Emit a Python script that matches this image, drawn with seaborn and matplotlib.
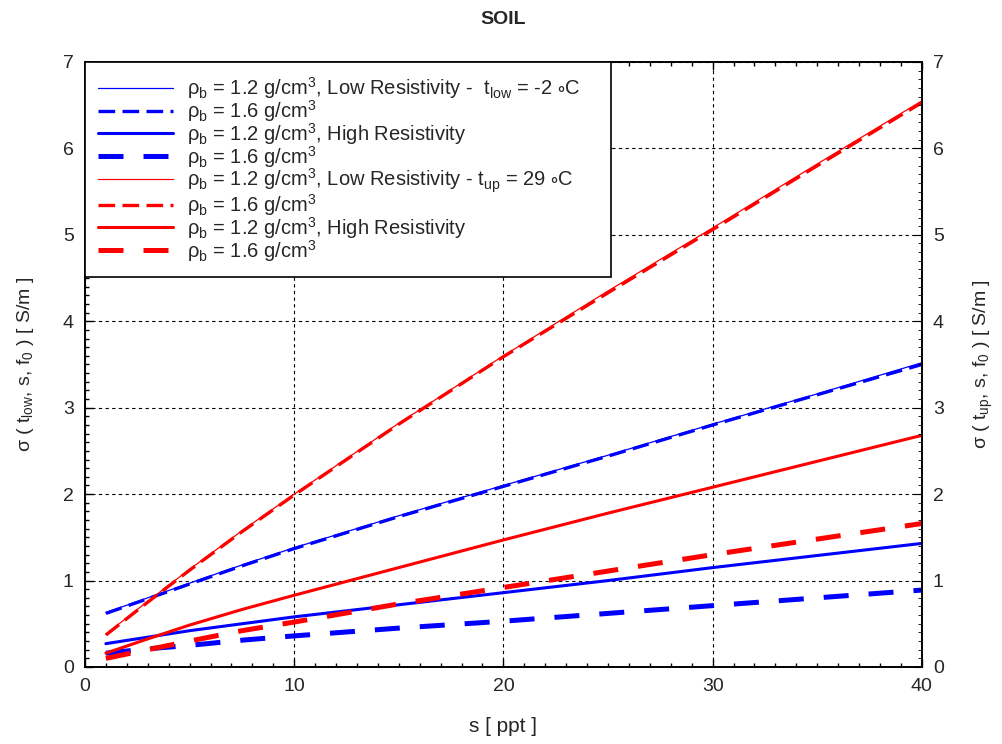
import numpy as np
import pandas as pd
import matplotlib
matplotlib.use("Agg")
import matplotlib.pyplot as plt
import seaborn as sns
from matplotlib.ticker import MultipleLocator

# salinity [ppt]
s = [1, 3, 5, 7.5, 10, 15, 20, 25, 30, 35, 40]

# t_low = -2 C (blue)
blue_low_12 = [0.63, 0.80, 0.97, 1.18, 1.38, 1.75, 2.10, 2.45, 2.81, 3.16, 3.52]
blue_low_16 = [0.62, 0.79, 0.96, 1.17, 1.37, 1.74, 2.09, 2.44, 2.80, 3.15, 3.50]
blue_high_12 = [0.27, 0.345, 0.42, 0.50, 0.58, 0.72, 0.86, 1.00, 1.15, 1.29, 1.43]
blue_high_16 = [0.16, 0.21, 0.25, 0.31, 0.36, 0.45, 0.53, 0.62, 0.71, 0.80, 0.89]

# t_up = 29 C (red)
red_low_12 = [0.38, 0.76, 1.13, 1.575, 2.00, 2.82, 3.60, 4.35, 5.08, 5.82, 6.55]
red_low_16 = [0.37, 0.75, 1.12, 1.565, 1.99, 2.81, 3.59, 4.33, 5.06, 5.80, 6.53]
red_high_12 = [0.16, 0.325, 0.485, 0.665, 0.83, 1.15, 1.47, 1.78, 2.08, 2.38, 2.68]
red_high_16 = [0.10, 0.20, 0.30, 0.42, 0.52, 0.73, 0.92, 1.11, 1.30, 1.48, 1.66]

labels = [
    "ρ$_\\mathrm{b}$ = 1.2 g/cm$^3$, Low Resistivity -  t$_\\mathrm{low}$ = -2 $\\circ$C",
    "ρ$_\\mathrm{b}$ = 1.6 g/cm$^3$",
    "ρ$_\\mathrm{b}$ = 1.2 g/cm$^3$, High Resistivity",
    "ρ$_\\mathrm{b}$ = 1.6 g/cm$^3$",
    "ρ$_\\mathrm{b}$ = 1.2 g/cm$^3$, Low Resistivity - t$_\\mathrm{up}$ = 29 $\\circ$C",
    "ρ$_\\mathrm{b}$ = 1.6 g/cm$^3$",
    "ρ$_\\mathrm{b}$ = 1.2 g/cm$^3$, High Resistivity",
    "ρ$_\\mathrm{b}$ = 1.6 g/cm$^3$",
]

sns.set_style("ticks")
plt.rcParams["font.family"] = ["Liberation Sans", "DejaVu Sans"]
plt.rcParams["mathtext.fontset"] = "custom"
plt.rcParams["mathtext.rm"] = "Liberation Sans"
plt.rcParams["mathtext.it"] = "Liberation Sans:italic"
plt.rcParams["mathtext.default"] = "regular"

series = [
    (blue_low_12, "#0000ff", 0.9, "-"),
    (blue_low_16, "#0000ff", 2.4, (0, (5, 2.2))),
    (blue_high_12, "#0000ff", 2.2, "-"),
    (blue_high_16, "#0000ff", 3.6, (0, (5, 4))),
    (red_low_12, "#ff0000", 0.9, "-"),
    (red_low_16, "#ff0000", 2.4, (0, (5, 2.2))),
    (red_high_12, "#ff0000", 2.2, "-"),
    (red_high_16, "#ff0000", 3.6, (0, (5, 4))),
]

fig = plt.figure(figsize=(10.02, 7.44), dpi=100)
ax = fig.add_axes([0.0848, 0.1035, 0.8352, 0.8132])

for (vals, col, lw, ls), lab in zip(series, labels):
    df = pd.DataFrame({"s": s, "sigma": vals})
    sns.lineplot(data=df, x="s", y="sigma", ax=ax, color=col, lw=lw,
                 linestyle=ls, label=lab, legend=False)

ax.set_xlim(0, 40)
ax.set_ylim(0, 7)
ax.xaxis.set_major_locator(MultipleLocator(10))
ax.xaxis.set_minor_locator(MultipleLocator(1))
ax.yaxis.set_major_locator(MultipleLocator(1))
ax.yaxis.set_minor_locator(MultipleLocator(0.1))
ax.grid(True, which="major", color="black", linestyle=(0, (3, 3)), lw=0.8)
ax.tick_params(which="both", direction="in", top=True, right=True,
               labelsize=14, width=1, color="black", pad=8)
ax.tick_params(which="major", length=6)
ax.tick_params(which="minor", length=3)
for sp in ax.spines.values():
    sp.set_linewidth(1.4)
    sp.set_color("black")

ax.set_xlabel("s [ ppt ]", fontsize=15, labelpad=16)
ax.set_ylabel("σ ( t$_\\mathrm{low}$, s, f$_0$ ) [ S/m ]", fontsize=14, labelpad=19)
ax.set_title("SOIL", fontsize=14, fontweight="bold", pad=27)

ax2 = ax.twinx()
ax2.set_ylim(0, 7)
ax2.yaxis.set_major_locator(MultipleLocator(1))
ax2.yaxis.set_minor_locator(MultipleLocator(0.1))
ax2.tick_params(which="both", direction="in", labelsize=14, pad=8, color="black")
ax2.tick_params(which="major", length=6)
ax2.tick_params(which="minor", length=3)
ax2.set_ylabel("σ ( t$_\\mathrm{up}$, s, f$_0$ ) [ S/m ]", fontsize=14, labelpad=20)
for sp in ax2.spines.values():
    sp.set_visible(False)

leg = ax.legend(loc="upper left", bbox_to_anchor=(0, 0, 0.628, 1), mode="expand",
                fontsize=14.5, frameon=True, fancybox=False,
                edgecolor="black", framealpha=1, handlelength=3.7,
                handletextpad=0.7, labelspacing=-0.15, borderaxespad=0,
                borderpad=0.65)
leg.get_frame().set_linewidth(1.2)

fig.savefig("out.png", dpi=100)
